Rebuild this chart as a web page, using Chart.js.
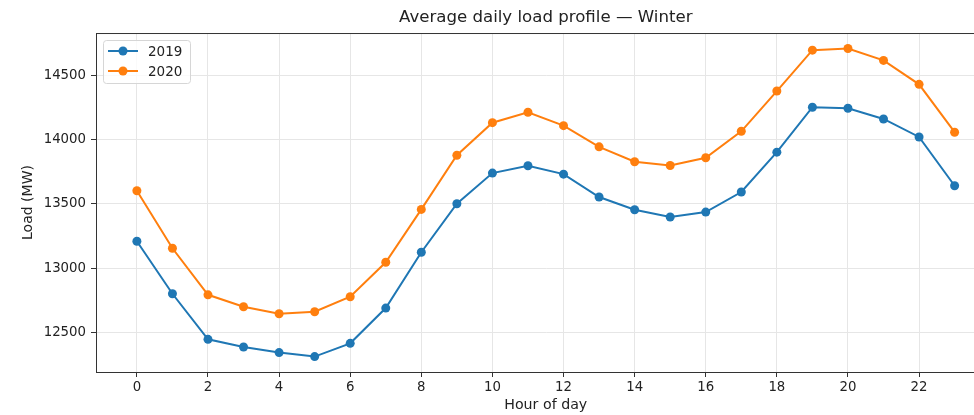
<!DOCTYPE html>
<html>
<head>
<meta charset="utf-8">
<script src="https://cdn.jsdelivr.net/npm/chart.js@4/dist/chart.umd.min.js"></script>
<style>
  html, body { margin: 0; padding: 0; background: #fff; overflow: hidden; width: 974px; height: 415px; }
  #wrap { width: 1000px; height: 415px; }
</style>
</head>
<body>
<div id="wrap"><canvas id="c" width="1000" height="415"></canvas></div>
<script>
const hours = [0,1,2,3,4,5,6,7,8,9,10,11,12,13,14,15,16,17,18,19,20,21,22,23];
const load2019 = [13208,12800,12446,12386,12343,12312,12415,12689,13123,13500,13738,13795,13730,13552,13453,13397,13435,13591,13901,14250,14242,14159,14019,13640];
const load2020 = [13601,13154,12792,12699,12645,12660,12777,13045,13456,13877,14130,14211,14107,13942,13826,13797,13857,14063,14376,14694,14707,14614,14428,14056];
const xTicks = [0,2,4,6,8,10,12,14,16,18,20,22];
const yTicks = [12500,13000,13500,14000,14500];
const seriesNames = ['2019','2020'];
const colors = ['#1f77b4','#ff7f0e'];
const FONT = "'DejaVu Sans', sans-serif";

const toPts = arr => hours.map((h,i) => ({x: h, y: arr[i]}));

const frame = {
  id: 'frame',
  afterDatasetsDraw(chart) {
    const {ctx, chartArea: a} = chart;
    ctx.save();
    ctx.strokeStyle = '#333';
    ctx.lineWidth = 1;
    ctx.strokeRect(a.left + 0.5, a.top + 0.5, a.right - a.left - 1, a.bottom - a.top);
    ctx.restore();
  }
};

const boxLegend = {
  id: 'boxLegend',
  afterDraw(chart) {
    const {ctx, chartArea: a} = chart;
    const bx = a.left + 7, by = a.top + 7, bw = 87, bh = 43;
    ctx.save();
    ctx.beginPath();
    ctx.roundRect(bx + 0.5, by + 0.5, bw, bh, 3);
    ctx.fillStyle = 'rgba(255,255,255,0.8)';
    ctx.fill();
    ctx.strokeStyle = '#d6d6d6';
    ctx.lineWidth = 1;
    ctx.stroke();
    chart.data.datasets.forEach((ds, i) => {
      const cy = by + 11 + i * 20;
      ctx.strokeStyle = ds.borderColor;
      ctx.lineWidth = 2;
      ctx.beginPath();
      ctx.moveTo(bx + 5, cy);
      ctx.lineTo(bx + 35, cy);
      ctx.stroke();
      ctx.fillStyle = ds.borderColor;
      ctx.beginPath();
      ctx.arc(bx + 20, cy, 4.5, 0, Math.PI * 2);
      ctx.fill();
      ctx.fillStyle = '#222';
      ctx.font = '13.5px ' + FONT;
      ctx.textBaseline = 'middle';
      ctx.textAlign = 'left';
      ctx.fillText(ds.label, bx + 45, cy + 1);
    });
    ctx.restore();
  }
};

new Chart(document.getElementById('c'), {
  type: 'line',
  data: {
    datasets: [
      { label: seriesNames[0], data: toPts(load2019), borderColor: colors[0], backgroundColor: colors[0],
        borderWidth: 2, pointRadius: 4.5, pointHoverRadius: 4.5, pointBorderWidth: 0, tension: 0, fill: false },
      { label: seriesNames[1], data: toPts(load2020), borderColor: colors[1], backgroundColor: colors[1],
        borderWidth: 2, pointRadius: 4.5, pointHoverRadius: 4.5, pointBorderWidth: 0, tension: 0, fill: false }
    ]
  },
  options: {
    responsive: false,
    animation: false,
    devicePixelRatio: 1,
    layout: { padding: { left: 20, right: 2, top: 0, bottom: 0 } },
    plugins: {
      legend: { display: false },
      tooltip: { enabled: false },
      title: {
        display: true,
        fullSize: false,
        text: 'Average daily load profile — Winter',
        color: '#222',
        font: { family: FONT, size: 16.6, weight: 'normal', lineHeight: 1.2 },
        padding: { top: 8, bottom: 5.1 }
      }
    },
    scales: {
      x: {
        type: 'linear',
        min: -1.15, max: 24.15,
        afterBuildTicks: s => { s.ticks = xTicks.map(v => ({value: v})); },
        afterFit: s => { s.height = 43; },
        ticks: { color: '#222', font: { family: FONT, size: 13.3 }, padding: 3, maxRotation: 0, autoSkip: false,
                 callback: v => String(v) },
        grid: { color: '#e6e6e6', lineWidth: 1, tickColor: '#333', tickLength: 5, tickWidth: 1 },
        border: { display: true, color: '#333', width: 1 },
        title: { display: true, text: 'Hour of day', color: '#222', font: { family: FONT, size: 14.2, lineHeight: 1.4 }, padding: 0 }
      },
      y: {
        type: 'linear',
        min: 12192, max: 14827,
        afterBuildTicks: s => { s.ticks = yTicks.map(v => ({value: v})); },
        afterFit: s => { s.width = 76; },
        ticks: { color: '#222', font: { family: FONT, size: 13.3 }, padding: 5, autoSkip: false,
                 callback: v => String(v) },
        grid: { color: '#e6e6e6', lineWidth: 1, tickColor: '#333', tickLength: 5, tickWidth: 1 },
        border: { display: true, color: '#333', width: 1 },
        title: { display: true, text: 'Load (MW)', color: '#222', font: { family: FONT, size: 14, lineHeight: 1.15 }, padding: 0 }
      }
    }
  },
  plugins: [frame, boxLegend]
});
</script>
</body>
</html>
